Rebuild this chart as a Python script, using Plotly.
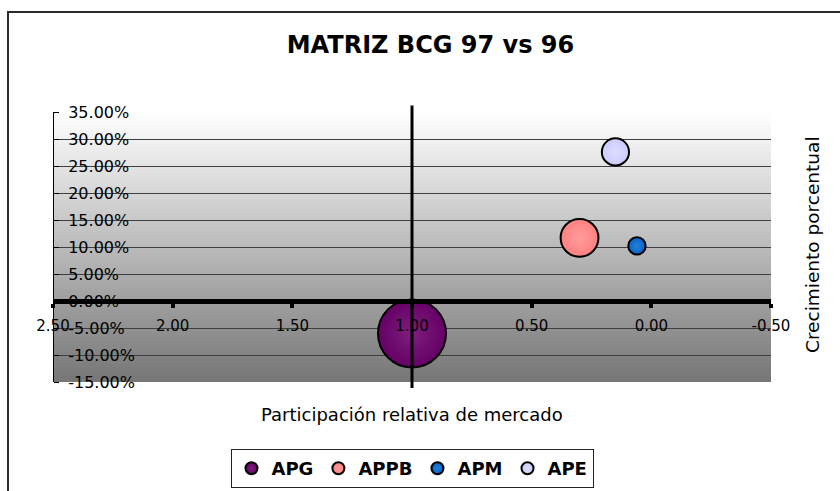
import plotly.graph_objects as go

# Matriz BCG: participación relativa vs. crecimiento, burbuja = volumen
productos = ["APG", "APPB", "APM", "APE"]
participacion_relativa = [1.00, 0.30, 0.06, 0.15]
crecimiento = [-0.060, 0.117, 0.102, 0.276]
volumen = [100, 31, 6.5, 16]

colores = ["#660066", "#FF8080", "#0066CC", "#CCCCFF"]
brillos = ["#7d1f7d", "#ff9c9c", "#2a7fd6", "#dcdcff"]

rango_x = [2.5, -0.5]
rango_y = [-0.15, 0.35]
ticks_x = [2.5, 2.0, 1.5, 1.0, 0.5, 0.0, -0.5]
ticks_y = [0.35, 0.30, 0.25, 0.20, 0.15, 0.10, 0.05, 0.0, -0.05, -0.10, -0.15]
etiquetas_x = [f"{v:.2f}" for v in ticks_x]
etiquetas_y = [f"{v:.2%}" for v in ticks_y]
cruce_eje_y = 1.0

FUENTE = "DejaVu Sans"
DIAM_MAX = 68
sizeref = 2.0 * max(volumen) / DIAM_MAX ** 2

fig = go.Figure()
for nombre, px_, cy, vol, col, bri in zip(productos, participacion_relativa,
                                         crecimiento, volumen, colores, brillos):
    fig.add_trace(go.Scatter(
        x=[px_], y=[cy], name=nombre, mode="markers",
        marker=dict(size=[vol], sizemode="area", sizeref=sizeref, sizemin=0,
                    opacity=1, color=col,
                    gradient=dict(type="radial", color=bri),
                    line=dict(color="black", width=2)),
        hoverinfo="name+x+y",
    ))

# posición del eje X en y = 0 (fracción del alto del área de trazado)
pos_eje_x = (0 - rango_y[0]) / (rango_y[1] - rango_y[0])
# posición horizontal de la línea divisoria
pos_cruce = (rango_x[0] - cruce_eje_y) / (rango_x[0] - rango_x[1])

shapes = []
# fondo degradado del área de trazado (blanco arriba, gris abajo)
n_bandas = 90
top, bot = (255, 255, 255), (118, 118, 118)
for i in range(n_bandas):
    t = (i + 0.5) / n_bandas
    c = tuple(round(bot[k] + (top[k] - bot[k]) * t) for k in range(3))
    shapes.append(dict(type="rect", xref="paper", yref="paper",
                       x0=0, x1=1, y0=i / n_bandas, y1=(i + 1) / n_bandas,
                       fillcolor="rgb(%d,%d,%d)" % c, line=dict(width=0),
                       layer="below"))
# línea vertical que divide la matriz
shapes.append(dict(type="line", xref="paper", yref="paper",
                   x0=pos_cruce, x1=pos_cruce, y0=-0.022, y1=1.024,
                   line=dict(color="black", width=3), layer="above"))
# marco del gráfico
shapes.append(dict(type="rect", xref="paper", yref="paper",
                   x0=(8 - 53) / 718, x1=2, y0=-2, y1=(382 - 12) / 270,
                   line=dict(color="#2a2a2a", width=2), fillcolor="rgba(0,0,0,0)",
                   layer="above"))

fig.update_layout(
    width=840, height=491,
    margin=dict(l=53, r=69, t=112, b=109, autoexpand=False),
    paper_bgcolor="white", plot_bgcolor="rgba(0,0,0,0)",
    font=dict(family=FUENTE, color="black"),
    title=dict(text="MATRIZ BCG 97 vs 96", x=0.5125, xanchor="center",
               y=1 - 45 / 491, yanchor="middle", yref="container",
               font=dict(family=FUENTE, size=24, weight="bold", color="black")),
    xaxis=dict(range=rango_x, tickvals=ticks_x, ticktext=etiquetas_x,
               anchor="free", position=pos_eje_x,
               showline=True, linewidth=5, linecolor="black",
               ticks="outside", ticklen=4, tickwidth=4, tickcolor="black",
               ticklabelstandoff=5,
               showgrid=False, zeroline=False,
               tickfont=dict(family=FUENTE, size=15, color="black")),
    yaxis=dict(range=rango_y, tickvals=ticks_y, ticktext=etiquetas_y,
               side="right", anchor="free", position=0,
               showline=True, linewidth=1, linecolor="black",
               ticks="outside", ticklen=5, tickwidth=1, tickcolor="black",
               ticklabelstandoff=6,
               showgrid=True, gridcolor="#3f3f3f", gridwidth=1, zeroline=False,
               tickfont=dict(family=FUENTE, size=16, color="black")),
    shapes=shapes,
    showlegend=True,
    legend=dict(orientation="h", x=0.5, xanchor="center",
                y=1 - 488 / 491, yanchor="bottom", yref="container",
                bgcolor="white", bordercolor="#222222", borderwidth=1,
                itemsizing="constant", tracegroupgap=0,
                font=dict(family=FUENTE, size=18, weight="bold", color="black")),
    annotations=[
        dict(text="Participación relativa de mercado", xref="paper", yref="paper",
             x=0.5, y=0, yshift=-32, xanchor="center", yanchor="middle",
             showarrow=False, font=dict(family=FUENTE, size=18, color="black")),
        dict(text="Crecimiento porcentual", xref="paper", yref="paper",
             x=1, xshift=41, y=0.5, yshift=2, textangle=-90,
             xanchor="center", yanchor="middle", showarrow=False,
             font=dict(family=FUENTE, size=18.5, color="black")),
    ],
)

fig.write_html("out.html")
